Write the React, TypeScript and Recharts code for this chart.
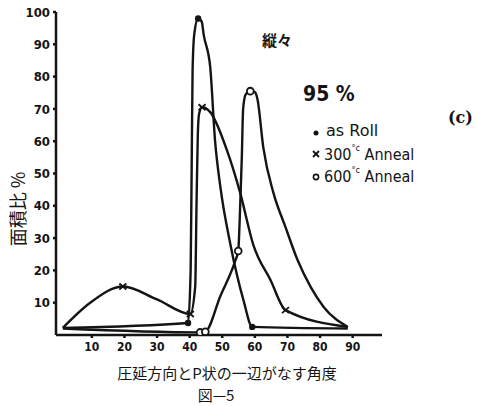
import { LineChart, Line, XAxis, YAxis } from 'recharts';

// angle (deg) vs area ratio (%)
const asRollPts: [number, number][] = [
  [1.1, 2.2], [39.5, 3.7], [40.3, 20], [40.6, 50], [40.9, 82], [41.4, 93], [42.6, 98],
  [43.7, 97], [44.3, 93], [46.3, 83], [47.8, 60], [49.4, 46], [52.5, 28], [56.5, 10.8],
  [59.2, 2.5], [88.5, 2],
];
const asRollMarks = [39.5, 42.6, 59.2];

const anneal300Pts: [number, number][] = [
  [1.1, 2.2], [9.4, 9.9], [19.5, 15], [30, 11], [40.2, 6.5], [41.7, 15], [42.1, 40],
  [42.5, 62], [42.9, 68.5], [43.8, 70.5], [46.3, 69], [51.5, 57], [55.5, 44], [59.5, 28],
  [64.8, 17], [69.4, 7.7], [88.5, 2.5],
];
const anneal300Marks = [19.5, 40.2, 43.8, 69.4];

const anneal600Pts: [number, number][] = [
  [1.1, 2], [43.2, 0.8], [44.8, 1], [49.4, 12], [54, 23], [54.9, 26], [55.5, 40], [56, 55],
  [56.4, 70], [57.2, 74.5], [58.6, 75.5], [60, 75.2], [60.8, 73], [62.6, 58], [65.7, 44],
  [69.4, 33.4], [73.1, 23.2], [77.1, 14.9], [81.1, 8.7], [88.5, 2.5],
];
const anneal600Marks = [43.2, 44.8, 54.9, 58.6];

const xTicks = [10, 20, 30, 40, 50, 60, 70, 80, 90];
const yTicks = [10, 20, 30, 40, 50, 60, 70, 80, 90, 100];

const INK = '#141414';
const tickFont = { fontFamily: 'DejaVu Sans Condensed', fontWeight: 700, fill: INK };

const toRows = (pts: [number, number][], marks: number[]) =>
  pts.map(([x, y]) => ({ x, y, m: marks.includes(x) }));

type Kind = 'dot' | 'cross' | 'ring';

function marker(kind: Kind) {
  return (props: any) => {
    const { cx, cy, payload, index } = props;
    const key = `${kind}-${index}`;
    if (!payload?.m) return <g key={key} />;
    if (kind === 'dot') return <circle key={key} cx={cx} cy={cy} r={3.2} fill={INK} />;
    if (kind === 'ring')
      return <circle key={key} cx={cx} cy={cy} r={3.4} fill="#fff" stroke={INK} strokeWidth={1.8} />;
    return (
      <g key={key} stroke={INK} strokeWidth={1.8}>
        <line x1={cx - 3.5} y1={cy - 3} x2={cx + 3.5} y2={cy + 3} />
        <line x1={cx - 3.5} y1={cy + 3} x2={cx + 3.5} y2={cy - 3} />
      </g>
    );
  };
}

export default function App() {
  return (
    <div style={{ position: 'absolute', left: 0, top: 0, width: 478, height: 406, background: '#fff' }}>
      <LineChart width={478} height={406} margin={{ top: 12, right: 96, left: 0, bottom: 41 }}>
        <XAxis
          type="number"
          dataKey="x"
          domain={[-1, 99]}
          ticks={xTicks}
          allowDataOverflow
          height={30}
          stroke={INK}
          strokeWidth={2.5}
          tickSize={3}
          tick={{ ...tickFont, fontSize: 12 }}
          tickMargin={4}
        />
        <YAxis
          type="number"
          dataKey="y"
          domain={[0, 100]}
          ticks={yTicks}
          allowDataOverflow
          width={56}
          stroke={INK}
          strokeWidth={2.5}
          tickSize={3}
          tick={{ ...tickFont, fontSize: 13 }}
          tickMargin={3}
        />
        <Line data={toRows(asRollPts, asRollMarks)} dataKey="y" type="monotone" stroke={INK}
          strokeWidth={2.4} dot={marker('dot')} activeDot={false} isAnimationActive={false} />
        <Line data={toRows(anneal300Pts, anneal300Marks)} dataKey="y" type="monotone" stroke={INK}
          strokeWidth={2.4} dot={marker('cross')} activeDot={false} isAnimationActive={false} />
        <Line data={toRows(anneal600Pts, anneal600Marks)} dataKey="y" type="monotone" stroke={INK}
          strokeWidth={2.4} dot={marker('ring')} activeDot={false} isAnimationActive={false} />
      </LineChart>

      <svg width={478} height={406} style={{ position: 'absolute', left: 0, top: 0, pointerEvents: 'none' }}>
        <text x={17} y={209} transform="rotate(-90 17 209)" textAnchor="middle" dominantBaseline="central"
          fontFamily="Noto Sans CJK JP" fontSize={18} fill={INK}>面積比 %</text>
        <text x={227} y={372} textAnchor="middle" dominantBaseline="central"
          fontFamily="Noto Sans CJK JP" fontSize={15} fill={INK}>圧延方向とP状の一辺がなす角度</text>
        <text x={216} y={394} textAnchor="middle" dominantBaseline="central"
          fontFamily="Noto Sans CJK JP" fontSize={15} fill={INK}>図—5</text>

        <text x={262} y={39} dominantBaseline="central" fontFamily="Noto Sans CJK JP" fontSize={15}
          fontWeight={700} fill={INK}>縦々</text>
        <text x={303} y={94} dominantBaseline="central" fontFamily="DejaVu Sans Condensed" fontSize={21}
          fontWeight={700} fill={INK}>95 %</text>
        <text x={448} y={117} dominantBaseline="central" fontFamily="DejaVu Serif" fontSize={16}
          fontWeight={700} fill={INK}>(c)</text>

        <circle cx={316} cy={133} r={2.5} fill={INK} />
        <text x={326} y={130} dominantBaseline="central" fontFamily="DejaVu Sans" fontSize={16}
          fill={INK}>as Roll</text>
        <g stroke={INK} strokeWidth={1.8}>
          <line x1={313} y1={151} x2={319} y2={157} />
          <line x1={313} y1={157} x2={319} y2={151} />
        </g>
        <text x={324} y={154} dominantBaseline="central" fontFamily="DejaVu Sans Condensed" fontSize={16}
          fill={INK}>300<tspan fontSize={9} dy={-6}>°c</tspan><tspan dy={6}> Anneal</tspan></text>
        <circle cx={316} cy={177} r={2.6} fill="#fff" stroke={INK} strokeWidth={1.6} />
        <text x={324} y={176} dominantBaseline="central" fontFamily="DejaVu Sans Condensed" fontSize={16}
          fill={INK}>600<tspan fontSize={9} dy={-6}>°c</tspan><tspan dy={6}> Anneal</tspan></text>
      </svg>
    </div>
  );
}
